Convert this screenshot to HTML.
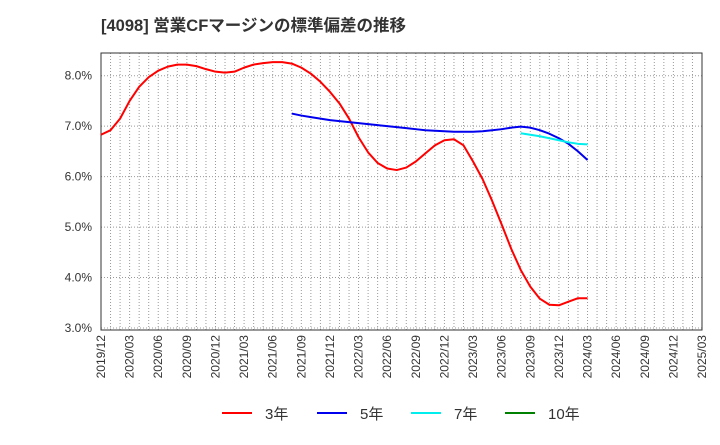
<!DOCTYPE html>
<html><head><meta charset="utf-8"><style>
body{margin:0;background:#fff;width:720px;height:440px;overflow:hidden;font-family:"Liberation Sans","Noto Sans CJK JP",sans-serif}
</style></head><body>
<svg id="chart" width="720" height="440" xmlns="http://www.w3.org/2000/svg" font-family="Liberation Sans, Noto Sans CJK JP, sans-serif">
<text x="101" y="31" font-size="16.5" font-weight="bold" fill="#333">[4098]  営業CFマージンの標準偏差の推移</text>
<g id="grid"></g><g id="axes"></g><g id="series"></g><g id="legend"></g>
</svg>
<script>
const xLabels=["2019/12","2020/03","2020/06","2020/09","2020/12","2021/03","2021/06","2021/09","2021/12","2022/03","2022/06","2022/09","2022/12","2023/03","2023/06","2023/09","2023/12","2024/03","2024/06","2024/09","2024/12","2025/03"];
const yTicks=[3,4,5,6,7,8];
const s3Start=0;
const s3=[6.83,6.92,7.15,7.5,7.78,7.97,8.1,8.18,8.22,8.22,8.19,8.13,8.08,8.06,8.08,8.16,8.22,8.25,8.27,8.27,8.24,8.16,8.04,7.88,7.68,7.45,7.15,6.78,6.48,6.27,6.16,6.13,6.18,6.3,6.46,6.62,6.72,6.74,6.62,6.3,5.95,5.52,5.05,4.57,4.15,3.82,3.58,3.46,3.45,3.52,3.59,3.59];
const s5Start=20;
const s5=[7.25,7.21,7.18,7.15,7.12,7.1,7.08,7.06,7.04,7.02,7.0,6.98,6.96,6.94,6.92,6.91,6.9,6.89,6.89,6.89,6.9,6.92,6.94,6.97,6.99,6.97,6.92,6.85,6.76,6.65,6.5,6.33];
const s7Start=44;
const s7=[6.86,6.83,6.8,6.76,6.72,6.68,6.65,6.64];
const s10Start=0;
const s10=[];
const L=101,R=702,T=53,B=330,yMin=2.96,yMax=8.45,months=63;
const xs=m=>L+(R-L)*m/months;
const ys=v=>B-(B-T)*(v-yMin)/(yMax-yMin);
const NS="http://www.w3.org/2000/svg";
function mk(p,t,a){const e=document.createElementNS(NS,t);for(const k in a)e.setAttribute(k,a[k]);p.appendChild(e);return e;}
const grid=document.getElementById('grid'),axes=document.getElementById('axes'),ser=document.getElementById('series'),leg=document.getElementById('legend');
for(let m=1;m<months;m++){const l=mk(grid,'line',{x1:xs(m),x2:xs(m),y1:T,y2:B,stroke:'#999','stroke-dasharray':'1,2','stroke-width':1});

}
yTicks.forEach(v=>{const l=mk(grid,'line',{x1:L,x2:R,y1:ys(v),y2:ys(v),stroke:'#999','stroke-dasharray':'1,2'});


const t=mk(axes,'text',{x:L-9,y:ys(v)+4,'text-anchor':'end','font-size':12,fill:'#333'});t.textContent=v.toFixed(1)+'%';

});
xLabels.forEach((s,i)=>{const x=xs(i*3);const t=mk(axes,'text',{transform:`translate(${x+4},${B+5}) rotate(-90)`,'text-anchor':'end','font-size':12,fill:'#333'});t.textContent=s;

});
const fr=mk(axes,'rect',{x:L,y:T,width:R-L,height:B-T,fill:'none',stroke:'#333'});


function line(arr,start,col,name){if(!arr.length)return;const p=mk(ser,'polyline',{points:arr.map((v,i)=>xs(start+i)+','+ys(v)).join(' '),fill:'none',stroke:col,'stroke-width':2,'stroke-linejoin':'round'});

}
line(s3,s3Start,'#ff0000','series-3y');line(s5,s5Start,'#0000ee','series-5y');line(s7,s7Start,'#00eeee','series-7y');line(s10,s10Start,'#008000','series-10y');
[['3年','#ff0000',222],['5年','#0000ee',317],['7年','#00eeee',411],['10年','#008000',505]].forEach(([n,c,x])=>{
const g=mk(leg,'g',{});


mk(g,'line',{x1:x,x2:x+30,y1:413,y2:413,stroke:c,'stroke-width':2});
const t=mk(g,'text',{x:x+43,y:419,'font-size':15,fill:'#333'});t.textContent=n;});
</script>
</body></html>
